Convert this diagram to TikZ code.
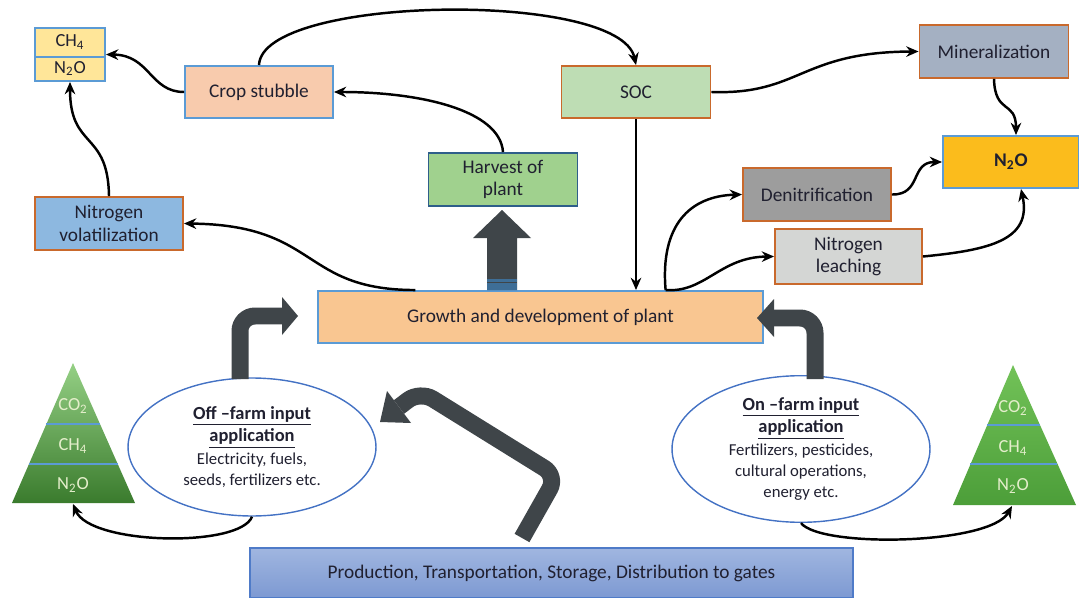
\documentclass[tikz,border=0pt]{standalone}
\usepackage{fontspec}
\setmainfont{Carlito}
\usetikzlibrary{arrows.meta,shapes.geometric,calc}
\newcommand{\hdfont}{\fontsize{10.5}{13}\selectfont\bfseries}
\definecolor{txt}{HTML}{202030}
\definecolor{blueb}{HTML}{5B9BD5}
\definecolor{orangeb}{HTML}{C9692C}
\definecolor{gasy}{HTML}{FFE699}
\definecolor{cropf}{HTML}{F8CBAD}
\definecolor{socf}{HTML}{BEDDB4}
\definecolor{minf}{HTML}{A4B0C2}
\definecolor{n2of}{HTML}{FBBC1C}
\definecolor{harvf}{HTML}{A0D18E}
\definecolor{harvb}{HTML}{2E5E8A}
\definecolor{nvolf}{HTML}{8DB8E0}
\definecolor{denf}{HTML}{9D9D9D}
\definecolor{leachf}{HTML}{D4D6D4}
\definecolor{growf}{HTML}{F9C691}
\definecolor{prodtop}{HTML}{A0B6E0}
\definecolor{prodbot}{HTML}{7D99D2}
\definecolor{prodb}{HTML}{4F7BC8}
\definecolor{arr}{HTML}{3F4549}
\definecolor{ellb}{HTML}{4472C4}
\definecolor{pyrLtop}{HTML}{95D085}
\definecolor{pyrLbot}{HTML}{3A7B2D}
\definecolor{pyrRtop}{HTML}{72C258}
\definecolor{pyrRbot}{HTML}{4C9E39}
\definecolor{pyrtxt}{HTML}{E4EECB}
\definecolor{stripe}{HTML}{3E6E97}
\begin{document}
\begin{tikzpicture}[x=0.02cm,y=-0.02cm,
  box/.style={draw, line width=1.1pt, align=center, inner sep=1pt, text=txt, font=\fontsize{11}{13}\selectfont},
  conn/.style={line width=1.4pt, draw=black, -{Stealth[length=7pt,width=6pt]}},
  fat/.style={draw=arr, line width=0.34cm, rounded corners=0.3cm},
  ell/.style={ellipse, draw=ellb, line width=0.8pt, fill=white, align=center, inner sep=0pt, text=txt, font=\fontsize{9.5}{12}\selectfont},
  gastxt/.style={text=pyrtxt, font=\fontsize{10.5}{12}\selectfont},
  sepl/.style={draw=blueb, line width=1pt}
]
\useasboundingbox (0,0) rectangle (1079,598);

% ---------- boxes ----------
\node[box, fill=gasy, draw=blueb, minimum width=1.4cm, minimum height=1.06cm] (gas) at (70,54.5) {};
\draw[sepl] ($(gas.west)+(0,2.5)$) -- ($(gas.east)+(0,2.5)$);
\node[text=txt, font=\fontsize{10.5}{12}\selectfont] (ch4) at (70,42) {CH\textsubscript{4}};
\node[text=txt, font=\fontsize{10.5}{12}\selectfont] (n2oa) at (70,68.5) {N\textsubscript{2}O};

\node[box, fill=cropf, draw=blueb, minimum width=2.96cm, minimum height=1.04cm] (crop) at (259,92) {Crop stubble};
\node[box, fill=socf, draw=orangeb, minimum width=2.98cm, minimum height=1.04cm] (soc) at (636,92) {SOC};
\node[box, fill=minf, draw=orangeb, minimum width=2.98cm, minimum height=1.06cm] (miner) at (994,51.5) {Mineralization};
\node[box, fill=n2of, draw=blueb, minimum width=2.72cm, minimum height=1.04cm, font=\fontsize{11}{13}\selectfont\bfseries] (n2o) at (1011,162) {N\textsubscript{2}O};
\node[box, fill=harvf, draw=harvb, minimum width=2.98cm, minimum height=1.06cm] (harvest) at (503,179.5) {Harvest of\\plant};
\node[box, fill=nvolf, draw=orangeb, minimum width=2.96cm, minimum height=1.06cm] (nvol) at (109,223.5) {Nitrogen\\volatilization};
\node[box, fill=denf, draw=orangeb, minimum width=2.96cm, minimum height=1.06cm] (denit) at (817,194.5) {Denitrification};
\node[box, fill=leachf, draw=orangeb, minimum width=2.94cm, minimum height=1.1cm] (leach) at (848.5,256.5) {Nitrogen\\leaching};
\node[box, fill=growf, draw=blueb, minimum width=8.9cm, minimum height=1.04cm] (growth) at (540.5,317) {Growth and development of plant};
\node[box, top color=prodtop, bottom color=prodbot, draw=prodb, minimum width=12.06cm, minimum height=1.0cm] (prod) at (551.5,573) {Production, Transportation, Storage, Distribution to gates};

% ---------- pyramids ----------
\shade[top color=pyrLtop, bottom color=pyrLbot] (73,363) -- (135,503) -- (12,503) -- cycle;
\draw[sepl] (46,424) -- (100,424);
\draw[sepl] (29,464) -- (118,464);
\node[gastxt] (lco2) at (73,406) {CO\textsubscript{2}};
\node[gastxt] (lch4) at (73,446) {CH\textsubscript{4}};
\node[gastxt] (ln2o) at (73,485) {N\textsubscript{2}O};
\coordinate (pyrL) at (73,504);

\shade[top color=pyrRtop, bottom color=pyrRbot] (1013,365) -- (1076,505) -- (953,505) -- cycle;
\draw[sepl] (987,425) -- (1040,425);
\draw[sepl] (970,464) -- (1057,464);
\node[gastxt] (rco2) at (1013,408) {CO\textsubscript{2}};
\node[gastxt] (rch4) at (1013,448) {CH\textsubscript{4}};
\node[gastxt] (rn2o) at (1013,486) {N\textsubscript{2}O};
\coordinate (pyrR) at (1012,506);

% ---------- big arrows ----------
% up arrow to harvest
\fill[arr] (487,290) -- (487,238) -- (473,238) -- (502,210) -- (531,238) -- (517,238) -- (517,290) -- cycle;
\fill[stripe] (487,279) rectangle (517,290);
\draw[arr, line width=1pt] (487,282.5) -- (517,282.5);

% big curved arrow from production to off-farm
\draw[fat] (522,538) -- (557,476) -- (420,391) -- (399,407);
\fill[arr] (411,423) -- (380,422) -- (387,391) -- cycle;

% ---------- ellipses ----------
\node[ell, minimum width=4.96cm, minimum height=2.76cm] (offe) at (252,447)
  {{\hdfont\underline{Off –farm input}}\\[1pt]{\hdfont\underline{application}}\\[1pt]Electricity, fuels,\\seeds, fertilizers etc.};
\node[ell, minimum width=5.16cm, minimum height=2.74cm] (one) at (801,449)
  {{\hdfont\underline{On –farm input}}\\[1pt]{\hdfont\underline{application}}\\[1pt]Fertilizers, pesticides,\\cultural operations,\\energy etc.};

% bent arrows into growth
\draw[fat] (240,379) -- (240,316) -- (283,316);
\fill[arr] (282,297) -- (298,316) -- (282,335) -- cycle;
\draw[fat] (815,379) -- (815,318) -- (773,318);
\fill[arr] (774,299) -- (757,318) -- (774,337) -- cycle;

% ---------- connectors ----------
\draw[conn] (crop.north) .. controls (262,-5) and (620,-10) .. (soc.north);
\draw[conn] (crop.west) .. controls (150,92) and (150,55) .. (gas.east);
\draw[conn] (harvest.north) .. controls (500,110) and (420,92) .. (crop.east);
\draw[conn] (nvol.north) .. controls (108,130) and (70,150) .. (gas.south);
\draw[conn] ($(growth.north west)!.22!(growth.north east)$) .. controls (300,290) and (320,225) .. (nvol.east);
\draw[conn] (soc.south) -- (soc.south |- growth.north);
\draw[conn] (soc.east) .. controls (800,95) and (800,52) .. (miner.west);
\draw[conn] (miner.south) .. controls (995,115) and (1016,100) .. ($(n2o.north)+(5,0)$);
\coordinate (gR) at ($(growth.north west)!.78!(growth.north east)$);
\draw[conn] (gR) .. controls (660,225) and (690,196) .. (denit.west);
\draw[conn] (gR) .. controls (705,293) and (720,257) .. (leach.west);
\draw[conn] (denit.east) .. controls (922,195) and (910,162) .. (n2o.west);
\draw[conn] (leach.east) .. controls (990,250) and (1032,240) .. ($(n2o.south)+(10,0)$);
\draw[conn] (offe.south) .. controls (240,548) and (90,545) .. (pyrL);
\draw[conn] (one.south) .. controls (820,548) and (990,545) .. (pyrR);
\end{tikzpicture}
\end{document}
